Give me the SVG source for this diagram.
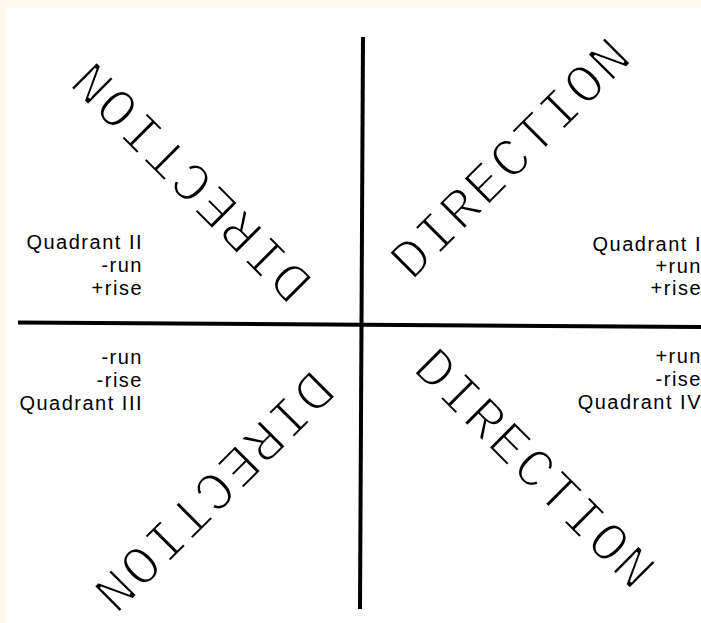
<svg xmlns="http://www.w3.org/2000/svg" width="701" height="623" viewBox="0 0 701 623">
  <style>
    .dir { font-family: "Liberation Mono", "Courier New", monospace; font-size: 56px; letter-spacing: 1.4px; fill: #000; stroke: #fff; stroke-width: 2.2px; paint-order: fill; text-anchor: middle; }
    .lbl { font-family: "Liberation Sans", Arial, sans-serif; font-size: 20px; letter-spacing: 1.5px; fill: #000; text-anchor: end; }
    .axis { stroke: #000; stroke-width: 4; fill: none; stroke-linecap: butt; }
  </style>
  <rect x="0" y="0" width="701" height="623" fill="#fef7eb"/>
  <rect x="6" y="8" width="695" height="615" fill="#ffffff"/>

  <g id="dir-q1" transform="translate(523,171) rotate(-45)">
    <text class="dir" x="0.7" y="0">DIRECTION</text>
  </g>
  <g id="dir-q2" transform="translate(204.5,169.5) rotate(-135)">
    <text class="dir" x="0.7" y="0">DIRECTION</text>
  </g>
  <g id="dir-q3" transform="translate(201.5,478.5) rotate(135)">
    <text class="dir" x="0.7" y="0">DIRECTION</text>
  </g>
  <g id="dir-q4" transform="translate(522,481) rotate(45)">
    <text class="dir" x="0.7" y="0">DIRECTION</text>
  </g>

  <g id="axes">
    <line class="axis" x1="363" y1="37" x2="360" y2="609"/>
    <line class="axis" x1="18" y1="322.5" x2="701" y2="327"/>
  </g>

  <g id="label-q2">
    <text class="lbl" x="143" y="249">Quadrant II</text>
    <text class="lbl" x="143" y="272">-run</text>
    <text class="lbl" x="143" y="295">+rise</text>
  </g>
  <g id="label-q3">
    <text class="lbl" x="143" y="364">-run</text>
    <text class="lbl" x="143" y="387">-rise</text>
    <text class="lbl" x="143" y="410">Quadrant III</text>
  </g>
  <g id="label-q1">
    <text class="lbl" x="702" y="251">Quadrant I</text>
    <text class="lbl" x="702" y="273">+run</text>
    <text class="lbl" x="702" y="295">+rise</text>
  </g>
  <g id="label-q4">
    <text class="lbl" x="702" y="363">+run</text>
    <text class="lbl" x="702" y="386">-rise</text>
    <text class="lbl" x="702" y="409">Quadrant IV</text>
  </g>
</svg>
